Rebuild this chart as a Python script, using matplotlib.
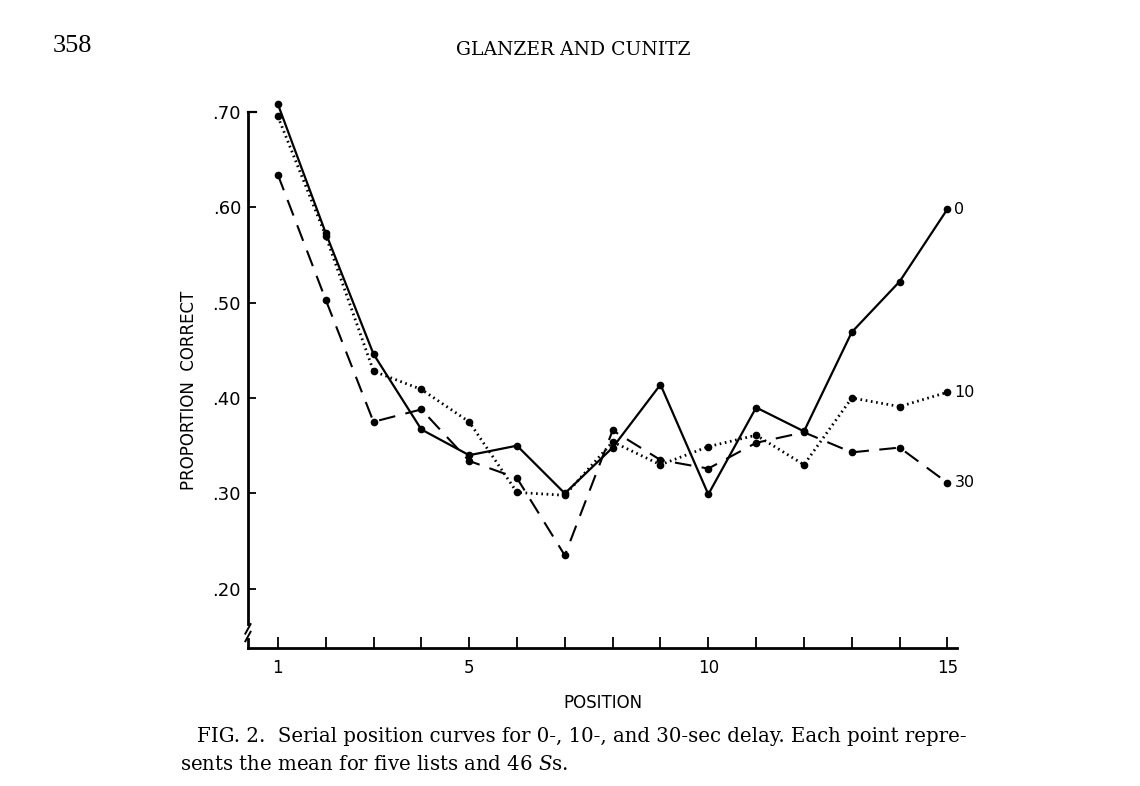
import matplotlib
matplotlib.use("Agg")
import matplotlib.pyplot as plt

# serial positions 1..15, proportion correct per delay condition
positions = list(range(1, 16))
delay_0 = [0.708, 0.573, 0.446, 0.367, 0.340, 0.350, 0.300, 0.348, 0.414, 0.299,
           0.390, 0.365, 0.469, 0.522, 0.598]
delay_10 = [0.695, 0.570, 0.428, 0.409, 0.375, 0.301, 0.298, 0.354, 0.330, 0.349,
            0.361, 0.330, 0.400, 0.391, 0.406]
delay_30 = [0.634, 0.503, 0.375, 0.388, 0.334, 0.316, 0.235, 0.366, 0.335, 0.326,
            0.353, 0.364, 0.343, 0.348, 0.311]

y_ticks = [0.20, 0.30, 0.40, 0.50, 0.60, 0.70]
y_tick_labels = [".20", ".30", ".40", ".50", ".60", ".70"]
x_ticks = positions
x_tick_labels = ["1" if p == 1 else str(p) if p % 5 == 0 else "" for p in positions]

sans = ["DejaVu Sans"]
serif = ["DejaVu Serif"]

plt.rcParams["mathtext.fontset"] = "custom"
plt.rcParams["mathtext.it"] = "DejaVu Serif:italic"
plt.rcParams["mathtext.rm"] = "DejaVu Serif"

fig = plt.figure(figsize=(11.4, 7.86), dpi=100)
ax = fig.add_axes([0.2175, 0.1756, 0.622, 0.7066])

ax.plot(positions, delay_0, color="black", linewidth=1.6, linestyle="-",
        marker="o", markersize=4.5, clip_on=False)
ax.plot(positions, delay_10, color="black", linewidth=2.0, linestyle=(0, (0.6, 1.3)),
        marker="o", markersize=4.5, clip_on=False)
ax.plot(positions, delay_30, color="black", linewidth=1.5, linestyle=(0, (8, 5)),
        marker="o", markersize=4.5, clip_on=False)

for vals, lab in [(delay_0, "0"), (delay_10, "10"), (delay_30, "30")]:
    ax.annotate(lab, (positions[-1], vals[-1]), xytext=(5, 0), textcoords="offset points",
                ha="left", va="center", fontsize=11.5, family=sans)

ax.set_xlim(0.375, 15.2)
ax.set_ylim(0.138, 0.72)

for side in ["top", "right"]:
    ax.spines[side].set_visible(False)
ax.spines["left"].set_linewidth(2.0)
ax.spines["bottom"].set_linewidth(2.0)
ax.spines["left"].set_bounds(0.163, 0.70)

# short bit of y axis under the break, plus the break marks
ax.plot([0.375, 0.375], [0.138, 0.147], color="black", linewidth=2.0, clip_on=False)
for yb in [0.150, 0.158]:
    ax.plot([0.32, 0.43], [yb - 0.005, yb + 0.005], color="black", linewidth=1.4, clip_on=False)
# top cap of y axis
ax.plot([0.375, 0.55], [0.70, 0.70], color="black", linewidth=1.6, clip_on=False)

ax.set_yticks(y_ticks)
ax.set_yticklabels(y_tick_labels, family=sans, fontsize=13)
ax.set_xticks(x_ticks)
ax.set_xticklabels(x_tick_labels, family=sans, fontsize=12)
ax.tick_params(axis="y", direction="in", length=6, width=1.3, pad=5)
ax.tick_params(axis="x", direction="in", length=8, width=1.3, pad=8)

ax.set_ylabel("PROPORTION  CORRECT", family=sans, fontsize=12)
ax.yaxis.set_label_coords(-0.07, 0.4645)
ax.set_xlabel("POSITION", family=sans, fontsize=12, labelpad=12)

fig.text(0.046, 0.942, "358", family=["Liberation Serif"], fontsize=19, ha="left", va="center")
fig.text(0.503, 0.936, "GLANZER AND CUNITZ", family=serif, fontsize=13.5, ha="center", va="center")

fig.text(0.173, 0.063, "FIG. 2.  Serial position curves for 0-, 10-, and 30-sec delay. Each point repre-",
         family=serif, fontsize=14.2, ha="left", va="center")
fig.text(0.158, 0.027, "sents the mean for five lists and 46 $\\it{S}$s.",
         family=serif, fontsize=14.2, ha="left", va="center")

fig.savefig("out.png", dpi=100)
